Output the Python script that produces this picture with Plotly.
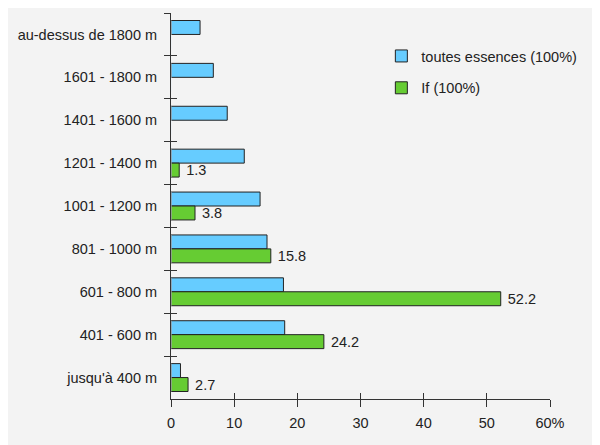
import plotly.graph_objects as go

categories = ["au-dessus de 1800 m", "1601 - 1800 m", "1401 - 1600 m", "1201 - 1400 m",
              "1001 - 1200 m", "801 - 1000 m", "601 - 800 m", "401 - 600 m", "jusqu'à 400 m"]
toutes = [4.6, 6.7, 8.9, 11.6, 14.1, 15.2, 17.8, 18.0, 1.5]
if_vals = [None, None, None, 1.3, 3.8, 15.8, 52.2, 24.2, 2.7]
x_ticks = [0, 10, 20, 30, 40, 50, 60]
x_ticktext = ["0", "10", "20", "30", "40", "50", "60%"]

FONT = "Liberation Sans, Arial, sans-serif"
INK = "#222222"
FS = 14.5

fig = go.Figure()
fig.add_trace(go.Bar(y=categories, x=toutes, orientation="h", name="toutes essences (100%)",
                     legendgroup="a",
                     marker=dict(color="#66ccff", line=dict(color=INK, width=1))))
fig.add_trace(go.Bar(y=categories, x=if_vals, orientation="h", name="If (100%)",
                     legendgroup="b",
                     marker=dict(color="#66cc33", line=dict(color=INK, width=1)),
                     text=[("" if v is None else f" {v:.1f}") for v in if_vals],
                     textposition="outside", cliponaxis=False, constraintext="none",
                     textfont=dict(family=FONT, size=FS, color=INK)))
# invisible trace for the overlay axes (inside tick halves)
fig.add_trace(go.Bar(y=categories, x=[0]*len(categories), orientation="h", xaxis="x2", yaxis="y2",
                     showlegend=False, hoverinfo="skip", marker=dict(color="rgba(0,0,0,0)")))

fig.update_layout(
    width=600, height=445,
    margin=dict(l=163, r=58, t=5, b=54),
    paper_bgcolor="#f3f3f3", plot_bgcolor="#f3f3f3",
    barmode="group", bargap=0.35, bargroupgap=0,
    font=dict(family=FONT, size=FS, color=INK),
    showlegend=True,
    legend=dict(x=0.555, y=0.93, xanchor="left", yanchor="top", bgcolor="rgba(0,0,0,0)",
                font=dict(family=FONT, size=FS, color=INK), tracegroupgap=10, itemwidth=30),
    xaxis=dict(range=[0, 60], tickvals=x_ticks, ticktext=x_ticktext, showgrid=False, zeroline=False,
               showline=True, linecolor="#333333", linewidth=1, ticks="outside", ticklen=7,
               tickcolor="#333333", tickwidth=1, ticklabelstandoff=4),
    yaxis=dict(autorange="reversed", type="category", showgrid=False, zeroline=False,
               showline=True, linecolor="#333333", linewidth=1, ticks="outside", ticklen=6,
               tickcolor="#333333", tickwidth=1, tickson="boundaries", ticklabelstandoff=10),
    xaxis2=dict(range=[0, 60], overlaying="x", tickvals=x_ticks, showticklabels=False, showgrid=False,
                zeroline=False, ticks="inside", ticklen=6, tickcolor="#333333", tickwidth=1, side="bottom"),
    yaxis2=dict(overlaying="y", type="category", autorange="reversed", showticklabels=False, showgrid=False,
                zeroline=False, ticks="inside", ticklen=6, tickcolor="#333333", tickwidth=1,
                tickson="boundaries", side="left"),
)
fig.write_html("out.html")
